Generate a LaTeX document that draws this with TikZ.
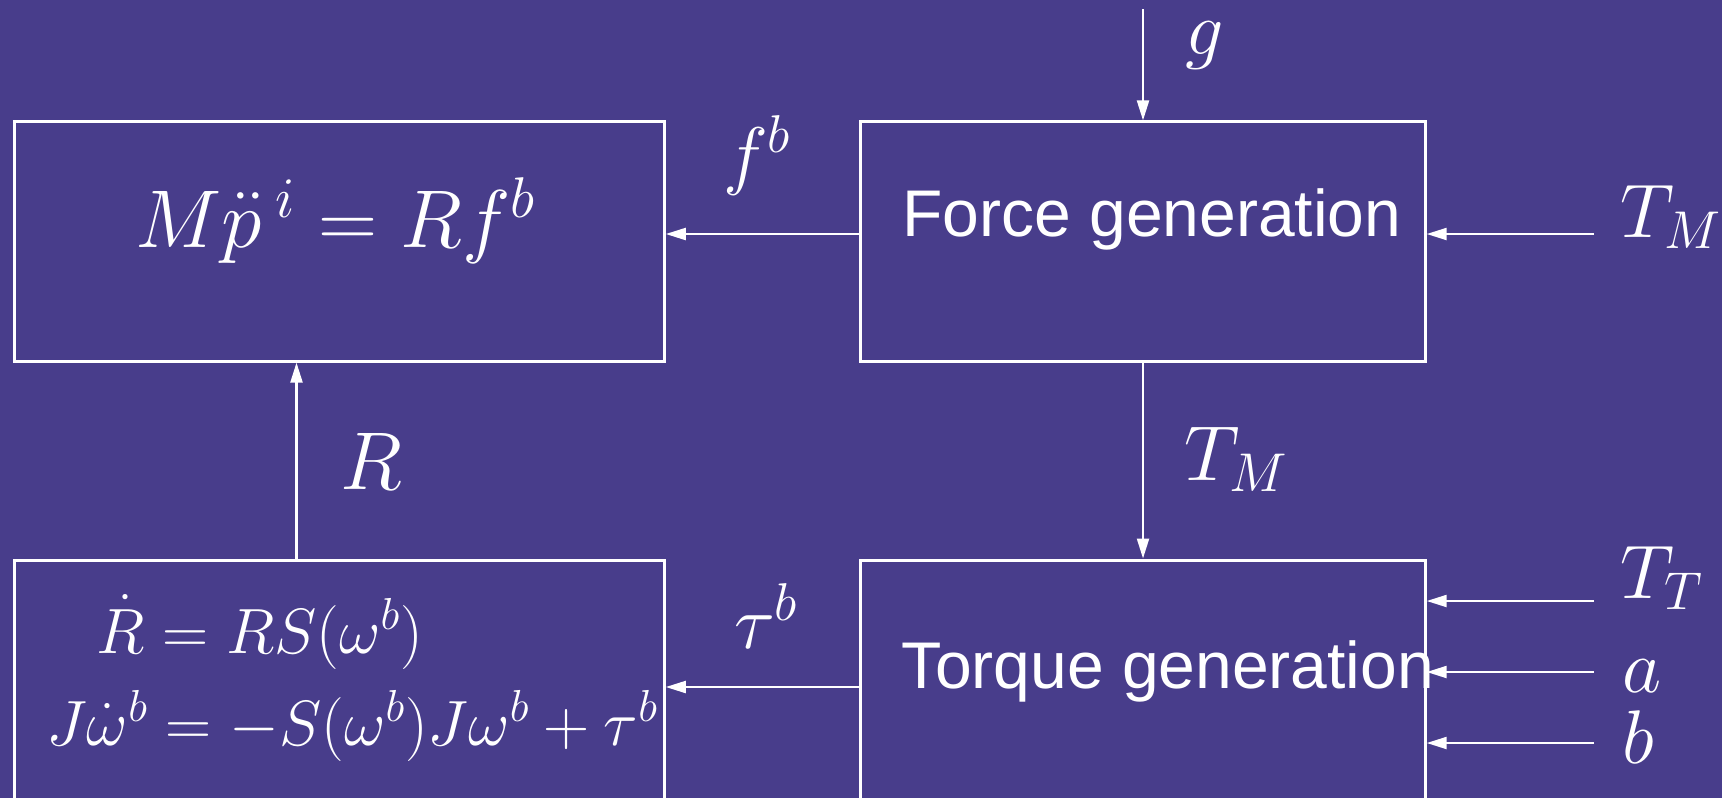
\documentclass[tikz,border=0pt]{standalone}
\usepackage{fix-cm}
\usepackage{fontspec}
\newfontfamily\sansfont{Liberation Sans}
\usetikzlibrary{arrows.meta}
\definecolor{bg}{RGB}{72,61,139}
\begin{document}
\begin{tikzpicture}[x=0.5pt,y=-0.5pt,
  blk/.style={draw=white,line width=1.5pt,rectangle,inner sep=0pt},
  arr/.style={draw=white,line width=1.1pt,-{Triangle[length=10pt,width=6pt]}},
  lbl/.style={text=white,inner sep=0pt,font=\fontsize{38}{45}\selectfont},
  big/.style={text=white,inner sep=0pt,font=\fontsize{41}{48}\selectfont},
  eqn/.style={text=white,inner sep=0pt,font=\fontsize{32}{38}\selectfont},
  stxt/.style={text=white,inner sep=0pt,font=\sansfont\fontsize{33}{40}\selectfont}]
\fill[bg] (0,0) rectangle (1722,798);
\useasboundingbox (0,0) rectangle (1722,798);
\clip (0,0) rectangle (1722,798);
% boxes
\node[blk,minimum width=325pt,minimum height=119.6pt] (mp) at (339.3,241.5) {};
\node[blk,minimum width=282.2pt,minimum height=119.6pt] (force) at (1143,241.5) {};
\node[blk,minimum width=325pt,minimum height=130pt] (rdot) at (339.3,690) {};
\node[blk,minimum width=282.2pt,minimum height=130pt] (torque) at (1143,690) {};
% box texts
\node[big,anchor=base] (mpeq) at (335.5,247) {$M\ddot{p}\mkern3mu{}^{i}=Rf^{b}$};
\node[stxt,anchor=base] (forcetxt) at (1152,236) {Force generation};
\node[eqn,anchor=base west] (rdot1) at (96,653) {$\dot{R}=RS(\omega^{b})$};
\node[eqn,anchor=base west] (rdot2) at (46,745) {$J\dot{\omega}^{b}=-S(\omega^{b})J\omega^{b}+\tau^{b}$};
\node[stxt,anchor=base] (torquetxt) at (1168,688) {Torque generation};
% free ends
\coordinate (gin) at (1143,9);
\coordinate (tmin) at (1594,234);
\coordinate (ttin) at (1594,601);
\coordinate (ain) at (1594,672);
\coordinate (bin) at (1594,743);
% connectors
\draw[arr] (gin) -- (force.north);
\draw[arr] ([yshift=3.75pt]force.west) -- ([yshift=3.75pt]mp.east);
\draw[arr] (tmin) -- (tmin -| force.east);
\draw[arr] (force.south) -- (torque.north);
\draw[arr] ([xshift=-21.4pt]rdot.north) -- ([xshift=-21.4pt]mp.south);
\draw[arr] ([yshift=1.5pt]torque.west) -- ([yshift=1.5pt]rdot.east);
\draw[arr] (ttin) -- (ttin -| torque.east);
\draw[arr] (ain) -- (ain -| torque.east);
\draw[arr] (bin) -- (bin -| torque.east);
% labels
\node[lbl,anchor=base] (lg) at (1205,54) {$g$};
\node[lbl,anchor=base] (lfb) at (757,180) {$f^{b}$};
\node[lbl,anchor=base west] (ltm) at (1620,237) {$T_M$};
\node[lbl,anchor=base west,font=\fontsize{39}{46}\selectfont] (ltm2) at (1184,480) {$T_M$};
\node[big,anchor=base] (lr) at (371,489) {$R$};
\node[lbl,anchor=base] (ltau) at (766,648) {$\tau^{b}$};
\node[lbl,anchor=base west] (ltt) at (1620,598) {$T_T$};
\node[lbl,anchor=base west] (la) at (1622,692) {$a$};
\node[lbl,anchor=base west] (lb) at (1622,763) {$b$};
\end{tikzpicture}
\end{document}
